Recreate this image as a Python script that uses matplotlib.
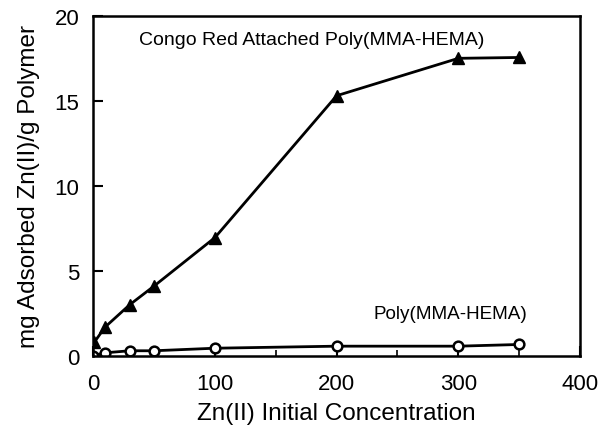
import numpy as np
import matplotlib
matplotlib.use("Agg")
import matplotlib.pyplot as plt
from matplotlib.ticker import MultipleLocator

plt.rcParams['font.family'] = ['Liberation Sans', 'DejaVu Sans']

# data
conc = [1, 10, 30, 50, 100, 200, 300, 350]
congo = [0.8, 1.7, 3.0, 4.1, 6.95, 15.3, 17.5, 17.55]
conc_plain = [0, 10, 30, 50, 100, 200, 300, 350]
plain = [0.02, 0.18, 0.3, 0.3, 0.45, 0.57, 0.57, 0.67]

fig = plt.figure(figsize=(6.12, 4.31), dpi=100)
ax = fig.add_axes([0.152, 0.172, 0.796, 0.789])

ax.plot(conc, congo, color='k', lw=2, marker='^', ms=8, mfc='k', mec='k')
ax.plot(conc_plain, plain, color='k', lw=2, marker='o', ms=7, mfc='white',
        mec='k', mew=1.8)

ax.text(38, 18.6, 'Congo Red Attached Poly(MMA-HEMA)', fontsize=14, va='center')
ax.text(230, 2.5, 'Poly(MMA-HEMA)', fontsize=13.6, va='center')

ax.set_xlim(0, 400)
ax.set_ylim(0, 20)
ax.set_xticks([0, 100, 200, 300, 400])
ax.set_yticks([0, 5, 10, 15, 20])
ax.xaxis.set_minor_locator(MultipleLocator(50))
ax.tick_params(which='major', direction='in', length=7, width=1.5, labelsize=16,
               top=False, right=False)
ax.tick_params(axis='x', which='major', pad=12)
ax.tick_params(axis='y', which='major', pad=10)
ax.tick_params(which='minor', direction='in', length=4, width=1.2,
               top=False, right=False)
for s in ax.spines.values():
    s.set_linewidth(1.8)

ax.set_xlabel('Zn(II) Initial Concentration', fontsize=17.5, labelpad=6)
ax.set_ylabel('mg Adsorbed Zn(II)/g Polymer', fontsize=17.5, labelpad=10)

fig.savefig('out.png', dpi=100)
